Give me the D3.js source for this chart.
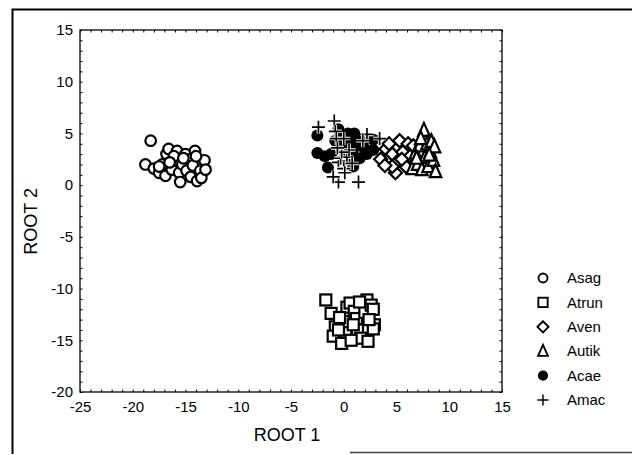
<!DOCTYPE html>
<html>
<head>
<meta charset="utf-8">
<script src="https://cdn.jsdelivr.net/npm/d3@7"></script>
<style>
  body { margin: 0; background: #fff; }
  text { font-family: "Liberation Sans", Arial, sans-serif; fill: #000; }
</style>
</head>
<body>
<div id="vis"></div>
<script>
// group names, in legend order
var groups = ['Asag', 'Atrun', 'Aven', 'Autik', 'Acae', 'Amac'];
var shapes = ['circle', 'square', 'diamond', 'triangle', 'dot', 'plus'];

// ROOT 1 / ROOT 2 scores
var asag = [[-18.3,4.3],[-18.8,2.0],[-18.0,1.6],[-17.5,1.2],[-17.2,2.0],[-16.9,0.9],[-16.8,3.0],
  [-16.6,3.5],[-16.3,1.5],[-16.0,2.4],[-15.8,3.3],[-15.6,1.2],[-15.5,0.3],[-15.3,2.0],[-15.0,3.0],
  [-14.9,1.4],[-14.7,2.5],[-14.5,0.8],[-14.3,1.9],[-14.1,3.3],[-13.9,0.4],[-13.6,1.4],[-13.5,0.7],
  [-13.2,2.4],[-13.1,1.5],[-16.1,2.8],[-15.2,2.6],[-17.5,1.8],[-16.5,2.2],[-14.0,2.8]];
var atrun = [[-1.7,-11.1],[-1.2,-12.4],[-0.8,-13.7],[-1.0,-14.6],[-0.2,-15.3],[0.2,-14.2],[0.1,-13.2],
  [0.3,-11.8],[0.6,-11.4],[1.0,-12.2],[1.2,-12.9],[1.3,-14.0],[1.6,-14.8],[2.0,-12.3],[2.2,-11.1],
  [2.6,-11.6],[2.8,-12.0],[2.9,-13.5],[2.8,-13.9],[2.3,-15.1],[-0.4,-12.8],[0.7,-15.0],[1.5,-11.3],
  [-0.5,-14.0],[0.9,-13.5],[2.4,-13.0]];
var aven = [[3.5,2.5],[4.0,3.5],[4.3,4.0],[4.6,3.0],[4.9,1.2],[5.0,2.2],[5.3,4.3],[5.6,3.2],[5.9,1.8],
  [6.1,4.0],[6.3,2.8],[6.6,3.8],[5.5,2.5],[4.6,1.8],[6.8,2.2],[3.9,1.9]];
var autik = [[6.5,1.6],[6.8,3.1],[7.0,2.0],[7.2,3.8],[7.4,1.5],[7.6,5.3],[7.7,2.7],[7.9,4.0],[8.0,1.8],
  [8.2,3.2],[8.3,4.2],[8.5,2.4],[8.7,1.3],[8.6,3.7],[7.3,4.5],[6.9,2.6],[8.1,2.9]];
var acae = [[-2.5,4.8],[-2.5,3.1],[-1.8,2.8],[-1.5,1.7],[-1.2,3.0],[-0.8,4.3],[-0.5,5.4],[-0.3,4.0],
  [0,3.5],[0.2,2.5],[0.4,5.0],[0.6,4.3],[0.8,3.2],[1.0,2.3],[1.2,4.6],[1.3,3.8],[1.5,2.6],[1.8,4.2],
  [2.0,3.5],[2.2,3.0],[2.8,4.4],[2.8,3.4],[0.9,1.8],[-0.1,4.8],[1.0,5.0],[0.3,3.8]];
var amac = [[-2.4,5.6],[-0.9,6.2],[-0.8,5.2],[-0.7,4.5],[-0.5,2.2],[-0.3,2.6],[0,1.6],[-0.5,0.3],
  [-1.0,0.8],[1.4,0.3],[0.3,2.7],[0.5,3.4],[0.8,2.1],[2.2,4.9],[3.4,4.5],[-0.2,3.2],[0.1,1.2],
  [1.8,4.3],[0.0,4.5],[-0.6,3.6]];
var series = [asag, atrun, aven, autik, acae, amac];

var xTicks = [-25, -20, -15, -10, -5, 0, 5, 10, 15];
var yTicks = [-20, -15, -10, -5, 0, 5, 10, 15];

var width = 632, height = 455;
var margin = { top: 30, left: 80, bottom: 63, right: 130 };

var svg = d3.select('#vis').append('svg')
  .attr('width', width)
  .attr('height', height);

// scanned page border
svg.append('path')
  .attr('d', 'M12.5,454 L12.5,9.5 L640,9.5')
  .attr('fill', 'none').attr('stroke', '#000').attr('stroke-width', 2);
svg.append('line')
  .attr('x1', 350).attr('x2', 632).attr('y1', 452.5).attr('y2', 452.5)
  .attr('stroke', '#444').attr('stroke-width', 1.5);

var x = d3.scaleLinear().domain([-25, 15]).range([margin.left, width - margin.right]);
var y = d3.scaleLinear().domain([-20, 15]).range([height - margin.bottom, margin.top]);

var g = svg.append('g');

var minorX = d3.range(-25, 15.01, 1);
var minorY = d3.range(-20, 15.01, 1);

// inward minor ticks on all four sides
function addAxis(axis, tr, vals) {
  var a = g.append('g').attr('transform', tr)
    .call(axis.tickValues(vals).tickSize(-2.5).tickPadding(6)
      .tickFormat(function (d) { return xTicks.indexOf(d) >= 0 || yTicks.indexOf(d) >= 0 ? (d % 5 === 0 ? d : '') : ''; }));
  a.select('.domain').remove();
  a.selectAll('line').attr('stroke', '#000');
  return a;
}
var xa = addAxis(d3.axisBottom(x), 'translate(0,' + y(-20) + ')', minorX);
xa.selectAll('text').attr('font-size', 15).attr('dy', '0.95em');
var ya = addAxis(d3.axisLeft(y), 'translate(' + x(-25) + ',0)', minorY);
ya.selectAll('text').attr('font-size', 15).attr('dx', '-1');
var xt = addAxis(d3.axisTop(x), 'translate(0,' + y(15) + ')', minorX);
xt.selectAll('text').remove();
var yr = addAxis(d3.axisRight(y), 'translate(' + x(15) + ',0)', minorY);
yr.selectAll('text').remove();

g.append('rect')
  .attr('x', x(-25)).attr('y', y(15))
  .attr('width', x(15) - x(-25)).attr('height', y(-20) - y(15))
  .attr('fill', 'none').attr('stroke', '#000').attr('stroke-width', 1.3);

// marker drawing
function marker(sel, shape) {
  if (shape === 'circle') {
    sel.append('circle').attr('r', 5.3).attr('fill', '#fff').attr('stroke', '#000').attr('stroke-width', 2.2);
  } else if (shape === 'square') {
    sel.append('rect').attr('x', -5.5).attr('y', -5.5).attr('width', 11).attr('height', 11)
      .attr('fill', '#fff').attr('stroke', '#000').attr('stroke-width', 2.2);
  } else if (shape === 'diamond') {
    sel.append('path').attr('d', 'M0,-6.5L6.5,0L0,6.5L-6.5,0Z')
      .attr('fill', '#fff').attr('stroke', '#000').attr('stroke-width', 2.2);
  } else if (shape === 'triangle') {
    sel.append('path').attr('d', 'M0,-7.5L5.8,5.5L-5.8,5.5Z')
      .attr('fill', '#fff').attr('stroke', '#000').attr('stroke-width', 2.2);
  } else if (shape === 'dot') {
    sel.append('circle').attr('r', 6).attr('fill', '#000');
  } else {
    sel.append('path').attr('d', 'M-6.5,0H6.5M0,-6.5V6.5')
      .attr('fill', 'none').attr('stroke', '#fff').attr('stroke-width', 3.5);
    sel.append('path').attr('d', 'M-6.5,0H6.5M0,-6.5V6.5')
      .attr('fill', 'none').attr('stroke', '#000').attr('stroke-width', 1.7);
  }
}

series.forEach(function (pts, k) {
  g.append('g').selectAll('g.pt')
    .data(pts)
    .enter()
    .append('g')
    .attr('class', 'pt')
    .attr('transform', function (d) { return 'translate(' + x(d[0]) + ',' + y(d[1]) + ')'; })
    .each(function () { marker(d3.select(this), shapes[k]); });
});

// axis titles
svg.append('text')
  .attr('x', x(-5) - 4).attr('y', 441)
  .attr('text-anchor', 'middle').attr('font-size', 18)
  .text('ROOT 1');
svg.append('text')
  .attr('transform', 'translate(37,' + y(-3.5) + ') rotate(-90)')
  .attr('text-anchor', 'middle').attr('font-size', 18)
  .text('ROOT 2');

// legend
var lg = svg.append('g').selectAll('g')
  .data(groups)
  .enter()
  .append('g')
  .attr('transform', function (d, i) { return 'translate(543,' + (278 + i * 24.4) + ')'; });
lg.each(function (d, i) {
  var s = d3.select(this).append('g').attr('transform', 'scale(0.85)');
  marker(s, shapes[i]);
});
lg.append('text')
  .attr('x', 24).attr('dy', '0.35em')
  .attr('font-size', 15)
  .text(function (d) { return d; });
</script>
</body>
</html>
